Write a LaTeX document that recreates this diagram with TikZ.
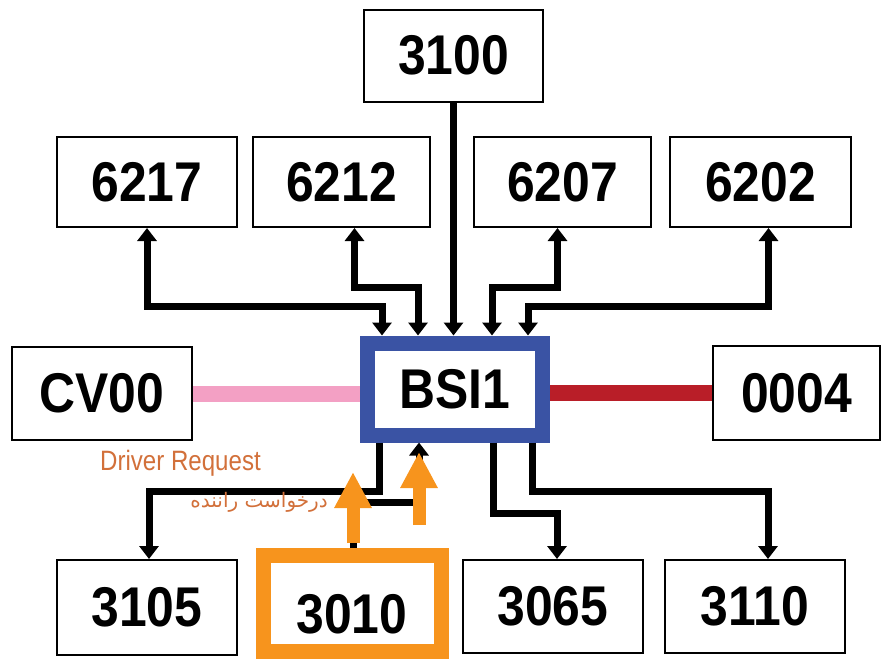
\documentclass[tikz,border=0pt]{standalone}
\usepackage{fontspec}
\setmainfont{Liberation Sans}
\newfontfamily\boxfont[FakeStretch=0.89]{Liberation Sans}
\newfontfamily\notefont[FakeStretch=0.86]{Liberation Sans}
\newfontfamily\arabicfont[Script=Arabic]{DejaVu Sans}
\TeXXeTstate=1
\usetikzlibrary{arrows.meta}
\definecolor{bsiblue}{RGB}{58,83,164}
\definecolor{reqorange}{RGB}{247,148,29}
\definecolor{notecolor}{RGB}{210,112,58}
\definecolor{linkpink}{RGB}{243,160,196}
\definecolor{linkred}{RGB}{185,30,40}

\begin{document}
\begin{tikzpicture}[x=1pt, y=-1pt,
    >={Triangle[width=19pt,length=13pt]},
    ecu/.style={draw, line width=2pt, fill=white, minimum width=180pt, minimum height=92pt, font=\boxfont\bfseries\fontsize{56}{60}\selectfont},
    bsibox/.style={ecu, draw=bsiblue, line width=15pt, minimum width=175pt},
    reqbox/.style={ecu, draw=reqorange, line width=15pt, minimum width=178pt, minimum height=96pt, text height=60pt, text depth=0pt},
    link/.style={line width=7pt},
    buspink/.style={line width=16pt, draw=linkpink},
    busred/.style={line width=16pt, draw=linkred},
    fatarrow/.style={line width=13pt, draw=reqorange, -{Triangle[width=35pt,length=36pt]}},
    note/.style={inner sep=0pt, text=notecolor}
  ]
    \useasboundingbox (0,0) rectangle (882,659);

    % Central unit and the units round it.
    \node[bsibox] (bsi) at (455,389) {BSI1};
    \node[ecu, minimum width=179pt] (ecu3100) at (453.5,55.5) {3100};
    \node[ecu, minimum height=90pt] (ecu6217) at (147,182) {6217};
    \node[ecu, minimum height=90pt, minimum width=177pt] (ecu6212) at (341.5,182) {6212};
    \node[ecu, minimum height=90pt, minimum width=177pt] (ecu6207) at (562.5,182) {6207};
    \node[ecu, minimum height=90pt, minimum width=181pt] (ecu6202) at (760.5,182) {6202};
    \node[ecu, minimum height=93pt] (cv00) at (102,393.5) {CV00};
    \node[ecu, minimum height=94pt, minimum width=167pt] (ecu0004) at (796.5,393) {0004};
    \node[ecu, minimum height=95pt] (ecu3105) at (147,607.5) {3105};
    \node[reqbox] (ecu3010) at (352,603.5) {3010};
    \node[ecu, minimum height=93pt] (ecu3065) at (553,606.5) {3065};
    \node[ecu, minimum height=93pt] (ecu3110) at (755,606.5) {3110};

    % Bus lines left and right.
    \draw[buspink] (cv00.east) -- (cv00.east -| bsi.west);
    \draw[busred] (ecu0004.west) -- (ecu0004.west -| bsi.east);

    % Links above.
    \draw[link, ->] (ecu3100.south) -- (ecu3100.south |- bsi.north);
    \draw[link, <->] (ecu6217.south) |- ([xshift=-73pt,yshift=29.5pt]bsi.north) -- ([xshift=-73pt]bsi.north);
    \draw[link, <->] ([xshift=13pt]ecu6212.south) |- ([xshift=-37pt,yshift=48.5pt]bsi.north) -- ([xshift=-37pt]bsi.north);
    \draw[link, <->] ([xshift=-5pt]ecu6207.south) |- ([xshift=37pt,yshift=48.5pt]bsi.north) -- ([xshift=37pt]bsi.north);
    \draw[link, <->] ([xshift=8pt]ecu6202.south) |- ([xshift=73pt,yshift=29.5pt]bsi.north) -- ([xshift=73pt]bsi.north);

    % Links below.
    \draw[link, ->] ([xshift=-76pt]bsi.south) |- ([xshift=2pt,yshift=68pt]ecu3105.north) -- ([xshift=2pt]ecu3105.north);
    \draw[link, ->] ([xshift=1pt]ecu3010.north) |- ([xshift=-36pt,yshift=-59.5pt]bsi.south) -- ([xshift=-36pt]bsi.south);
    \draw[link, ->] ([xshift=38pt]bsi.south) |- ([xshift=4pt,yshift=46pt]ecu3065.north) -- ([xshift=4pt]ecu3065.north);
    \draw[link, ->] ([xshift=77pt]bsi.south) |- ([xshift=13pt,yshift=68pt]ecu3110.north) -- ([xshift=13pt]ecu3110.north);

    % Driver request.
    \draw[fatarrow] ([xshift=1pt,yshift=5pt]ecu3010.north) -- ++(0,-71);
    \draw[fatarrow] ([xshift=-36pt,yshift=-82.5pt]bsi.south) -- ++(0,-73);
    \node[note, anchor=base west, font=\notefont\fontsize{28}{32}\selectfont] (reqen) at (100,470) {Driver Request};
    \node[note, anchor=base east, font=\arabicfont\fontsize{20}{24}\selectfont] (reqfa) at (328,507) {\beginR درخواست راننده\endR};
  \end{tikzpicture}
\end{document}
